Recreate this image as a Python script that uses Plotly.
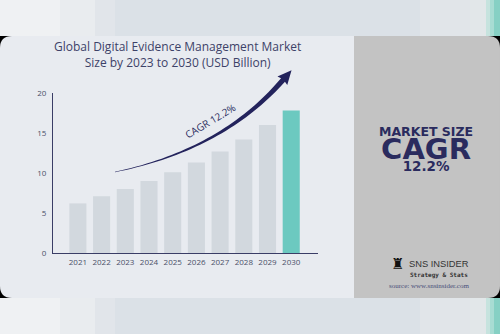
import plotly.graph_objects as go
import numpy as np

years = ["2021", "2022", "2023", "2024", "2025", "2026", "2027", "2028", "2029", "2030"]
values = [6.2, 7.1, 8.0, 9.0, 10.1, 11.3, 12.7, 14.2, 16.0, 17.8]
bar_colors = ["#d2d8de"] * 9 + ["#6cc9c0"]
y_ticks = [0, 5, 10, 15, 20]
title_text = "Global Digital Evidence Management Market<br>Size by 2023 to 2030 (USD Billion)"
cagr_text = "CAGR 12.2%"

W, H = 500, 334
L, R, T, B = 53, 182, 93, 81
PW, PH = W - L - R, H - T - B

def px(x):
    return (x - L) / PW

def py(y):
    return (H - B - y) / PH

NAVY = "#2a2b5e"
shapes = []

def rect(x0, y0, x1, y1, color):
    shapes.append(dict(type="rect", xref="paper", yref="paper", x0=px(x0), x1=px(x1),
                       y0=py(y1), y1=py(y0), fillcolor=color, line=dict(width=0), layer="below"))

# background bands
band = [(0, 60, "#eff1f3"), (60, 95, "#e9ecef"), (95, 115, "#e1e5ea"), (115, 420, "#dbe1e7"),
        (420, 470, "#e1e5e9"), (470, 486, "#e2e7e9"), (486, 490, "#c6e3de"), (490, 494, "#a8dcd3"),
        (494, 500, "#86d0c4")]
for x0, x1, c in band:
    rect(x0, 0, x1, 36, c)
    rect(x0, 298, x1, 334, c)
# black under card corners
rect(0, 36, 500, 298, "#000000")

def path_from(pts):
    s = ""
    for cmd, coords in pts:
        if cmd == "Z":
            s += " Z"
        else:
            s += " " + cmd + " " + " ".join(f"{px(x):.5f},{py(y):.5f}" for x, y in coords)
    return s.strip()

r = 12
top, bot, split = 36, 298, 354
left_panel = path_from([
    ("M", [(r, top)]), ("L", [(split, top)]), ("L", [(split, bot)]), ("L", [(r, bot)]),
    ("Q", [(0, bot), (0, bot - r)]), ("L", [(0, top + r)]), ("Q", [(0, top), (r, top)]), ("Z", None)])
right_panel = path_from([
    ("M", [(split, top)]), ("L", [(W - r, top)]), ("Q", [(W, top), (W, top + r)]),
    ("L", [(W, bot - r)]), ("Q", [(W, bot), (W - r, bot)]), ("L", [(split, bot)]), ("Z", None)])
shapes.append(dict(type="path", xref="paper", yref="paper", path=left_panel,
                   fillcolor="#e8ebf0", line=dict(width=0), layer="below"))
shapes.append(dict(type="path", xref="paper", yref="paper", path=right_panel,
                   fillcolor="#c3c3c3", line=dict(width=0), layer="below"))

# curved arrow (decoration)
P0 = np.array([115.0, 172.0]); P1 = np.array([222.0, 150.0]); P2 = np.array([283.0, 80.0])
ts = np.linspace(0, 1, 40)
pts = np.array([(1 - t) ** 2 * P0 + 2 * (1 - t) * t * P1 + t ** 2 * P2 for t in ts])
ders = np.array([2 * (1 - t) * (P1 - P0) + 2 * t * (P2 - P1) for t in ts])
dn = ders / np.linalg.norm(ders, axis=1)[:, None]
nrm = np.stack([dn[:, 1], -dn[:, 0]], axis=1)
wid = 0.4 + 4.8 * ts ** 1.1
upper = pts + nrm * (wid / 2)[:, None]
lower = pts - nrm * (wid / 2)[:, None]
dend = dn[-1]; nend = nrm[-1]
tip = P2 + dend * 13
hb1 = P2 + nend * 6.5 - dend * 1
hb2 = P2 - nend * 6.5 - dend * 1
poly = list(upper) + [hb1, tip, hb2] + list(lower[::-1])
ap = "M " + " L ".join(f"{px(x):.5f},{py(y):.5f}" for x, y in poly) + " Z"
shapes.append(dict(type="path", xref="paper", yref="paper", path=ap,
                   fillcolor="#23235c", line=dict(width=0), layer="above"))

fig = go.Figure(go.Bar(x=years, y=values, marker=dict(color=bar_colors, line=dict(width=0)),
                       width=0.72, hoverinfo="skip"))

def note(x, y, text, font, **kw):
    d = dict(x=px(x), y=py(y), xref="paper", yref="paper", text=text, showarrow=False,
             xanchor="center", yanchor="middle", font=font)
    d.update(kw)
    return d

right_block = ("<span style='font-size:12.5px'><b>MARKET SIZE</b></span><br><br>"
               "<span style='font-size:29px'><b>CAGR</b></span><br>"
               "<span style='font-size:13.5px'><b>12.2%</b></span>")

annotations = [
    note(177, 55, title_text, dict(family="Open Sans", size=12, color="#3d4268"), align="center"),
    dict(x="2022", y=values[1], xref="x", yref="y", text="7.1", showarrow=False, yshift=9,
         xanchor="center", yanchor="middle", font=dict(family="Open Sans", size=7, color="#4a5068")),
    dict(x="2030", y=values[9], xref="x", yref="y", text="17.8(BN)", showarrow=False, yshift=10, xshift=3,
         xanchor="center", yanchor="middle", font=dict(family="Open Sans", size=8, color="#4a5068")),
    note(210, 121, cagr_text, dict(family="Open Sans", size=10, color="#2a2b5e"), textangle=-31),
    note(426, 149, right_block, dict(family="DejaVu Sans", size=8.85, color=NAVY), align="center"),
    note(397, 264, "\u265c", dict(family="DejaVu Sans", size=15, color="#111111")),
    note(407, 264, "SNS INSIDER",
         dict(family="Liberation Sans", size=9.3, color="#333333"), xanchor="left"),
    note(408, 274.5, "<b>Strategy & Stats</b>", dict(family="DejaVu Sans Mono", size=6, color="#333333"),
         xanchor="left"),
    note(429, 285.5, "source: www.snsinsider.com", dict(family="Liberation Serif", size=7, color="#4a4f7a")),
]

fig.update_layout(
    width=W, height=H, margin=dict(l=L, r=R, t=T, b=B, autoexpand=False),
    paper_bgcolor="#dbe1e7", plot_bgcolor="rgba(0,0,0,0)",
    showlegend=False, shapes=shapes, annotations=annotations,
    xaxis=dict(type="category", range=[-1.05, 10.13], showgrid=False, zeroline=False,
               showline=True, linecolor="#3a3d66", linewidth=1, ticks="",
               tickfont=dict(family="Open Sans", size=8, color="#4a5068"), ticklabelstandoff=1,
               fixedrange=True),
    yaxis=dict(range=[0, 20], tickvals=y_ticks, showgrid=False, zeroline=False,
               showline=True, linecolor="#3a3d66", linewidth=1, ticks="",
               tickfont=dict(family="Open Sans", size=8, color="#4a5068"), ticklabelstandoff=4,
               fixedrange=True),
)
fig.write_html("out.html", config=dict(displayModeBar=False))
